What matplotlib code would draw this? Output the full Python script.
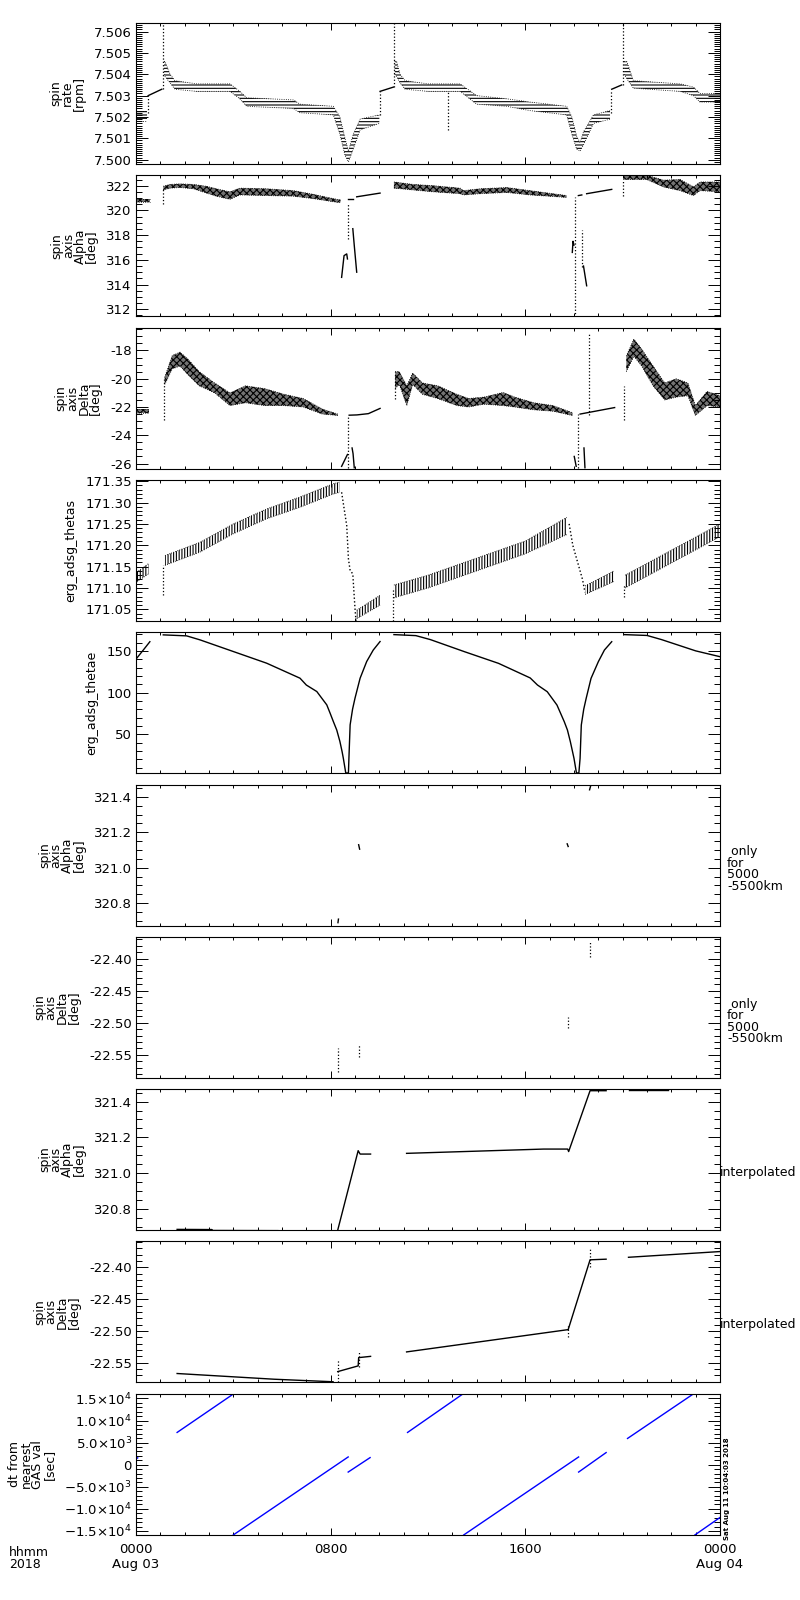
import numpy as np
import matplotlib
matplotlib.use('Agg')
import matplotlib.pyplot as plt
from matplotlib.ticker import MultipleLocator, FixedLocator, FixedFormatter

plt.rcParams['font.family'] = ['DejaVu Sans']
plt.rcParams['font.size'] = 9
plt.rcParams['hatch.linewidth'] = 0.8

# time axis in hours from 2018-08-03 00:00
xticks = [0, 8, 16, 24]
xticklabels = ['0000\nAug 03', '0800', '1600', '0000\nAug 04']

# ---- panel 1: spin rate [rpm]
p1_band_t = [[0.0, 0.45],
             [1.15, 1.19, 1.40, 1.60, 2.5, 3.86, 4.27, 4.55, 6.47, 6.74, 8.11, 8.38, 8.59, 8.73, 8.93, 9.21, 10.0],
             [10.63, 10.71, 10.85, 11.06, 12.0, 13.32, 14.0, 15.24, 16.19, 17.70, 17.91, 18.11, 18.25, 18.39, 18.80, 19.48],
             [20.06, 20.17, 20.44, 22.36, 22.91, 23.18, 24.0]]
p1_band_lo = [[7.5018, 7.5018],
              [7.5040, 7.5039, 7.5036, 7.5033, 7.5032, 7.5032, 7.50285, 7.5025, 7.5024, 7.5022, 7.5021, 7.5012, 7.5002, 7.4999, 7.5005, 7.5014, 7.5017],
              [7.5040, 7.5039, 7.5036, 7.5033, 7.5032, 7.5032, 7.5026, 7.5025, 7.5023, 7.5021, 7.5012, 7.5005, 7.5004, 7.5007, 7.5017, 7.5019],
              [7.5040, 7.5038, 7.50335, 7.5032, 7.5030, 7.5027, 7.5027]]
p1_band_hi = [[7.5023, 7.5023],
              [7.5046, 7.5046, 7.5040, 7.5037, 7.50355, 7.50355, 7.5032, 7.5029, 7.5028, 7.5026, 7.5025, 7.5020, 7.5010, 7.5004, 7.5012, 7.5019, 7.5021],
              [7.5046, 7.5046, 7.5040, 7.5037, 7.50355, 7.50355, 7.5030, 7.50285, 7.5027, 7.5025, 7.5020, 7.5011, 7.5008, 7.5013, 7.5021, 7.5023],
              [7.5046, 7.5046, 7.5037, 7.50355, 7.5034, 7.5031, 7.5031]]
p1_line_t = [[0.5, 1.06], [10.03, 10.58], [19.55, 19.96]]
p1_line_v = [[7.5030, 7.5033], [7.5032, 7.5034], [7.5033, 7.5035]]
p1_vt = [0.5, 1.12, 10.03, 10.6, 12.84, 19.5, 20.03]
p1_vlo = [7.5022, 7.5033, 7.5021, 7.5034, 7.5014, 7.5022, 7.5035]
p1_vhi = [7.5030, 7.5064, 7.5032, 7.5064, 7.5032, 7.5032, 7.5064]

# ---- panel 2: spin axis alpha [deg]
p2_band_t = [[0.0, 0.58],
             [1.12, 1.40, 1.81, 2.36, 2.90, 3.3, 3.86, 4.27, 5.37, 6.47, 7.29, 8.11, 8.40],
             [10.6, 11.40, 12.22, 13.32, 13.45, 14.14, 15.24, 16.19, 17.70],
             [20.03, 20.99, 21.67, 22.36, 22.91, 23.18, 24.0]]
p2_band_lo = [[320.7, 320.7],
              [321.65, 321.80, 321.85, 321.75, 321.40, 321.15, 320.9, 321.25, 321.2, 321.15, 320.95, 320.7, 320.62],
              [321.8, 321.65, 321.5, 321.35, 321.25, 321.35, 321.45, 321.25, 321.05],
              [322.5, 322.5, 321.9, 321.6, 321.2, 321.6, 321.5]]
p2_band_hi = [[320.95, 320.95],
              [321.95, 322.10, 322.15, 322.10, 321.95, 321.75, 321.5, 321.8, 321.75, 321.6, 321.3, 320.95, 320.85],
              [322.3, 322.1, 322.0, 321.8, 321.6, 321.75, 321.85, 321.6, 321.2],
              [322.85, 322.85, 322.45, 322.5, 321.9, 322.3, 322.3]]
p2_line_t = [[8.45, 8.55, 8.66, 8.69], [8.91, 8.97, 9.07], [8.73, 8.91], [9.07, 10.03],
             [17.93, 17.96, 18.0], [18.39, 18.52], [18.18, 18.32], [18.52, 19.55]]
p2_line_v = [[314.58, 316.34, 316.48, 316.07], [318.52, 317.16, 315.0], [320.95, 320.95], [321.1, 321.4],
             [316.6, 317.5, 317.2], [315.5, 313.9], [321.2, 321.25], [321.35, 321.7]]
p2_vt = [1.12, 8.70, 18.04, 18.32, 20.0]
p2_vlo = [320.55, 317.7, 311.4, 315.4, 321.2]
p2_vhi = [321.85, 320.6, 321.1, 318.4, 322.5]

# ---- panel 3: spin axis delta [deg]
p3_band_t = [[0.0, 0.54],
             [1.18, 1.49, 1.81, 2.13, 2.6, 3.23, 3.86, 4.5, 5.29, 6.08, 6.87, 7.66, 8.29],
             [10.65, 10.82, 11.13, 11.37, 11.77, 12.4, 13.19, 13.67, 14.3, 15.09, 15.56, 16.35, 17.14, 17.93],
             [20.15, 20.46, 20.78, 21.25, 21.73, 22.2, 22.68, 22.99, 23.47, 24.0]]
p3_band_lo = [[-22.4, -22.4],
              [-20.4, -19.3, -19.1, -19.7, -20.5, -21.0, -21.9, -21.7, -21.9, -21.9, -22.0, -22.5, -22.6],
              [-20.7, -20.4, -21.9, -20.4, -21.1, -21.4, -21.9, -22.0, -21.8, -21.9, -22.0, -22.2, -22.3, -22.6],
              [-19.5, -18.4, -19.1, -20.5, -21.5, -21.3, -21.2, -22.6, -21.9, -22.0]]
p3_band_hi = [[-22.15, -22.15],
              [-19.9, -18.36, -18.12, -18.6, -19.5, -20.3, -21.0, -20.5, -20.7, -21.1, -21.4, -22.15, -22.5],
              [-19.5, -19.5, -20.5, -19.6, -20.3, -20.5, -21.1, -21.4, -21.3, -20.97, -21.3, -21.7, -21.9, -22.4],
              [-18.4, -17.2, -17.9, -19.1, -20.3, -20.0, -20.3, -21.9, -20.9, -21.2]]
p3_line_t = [[8.45, 8.69], [8.88, 8.92, 8.97], [8.76, 9.08, 9.55, 10.03],
             [18.01, 18.09], [18.41, 18.45], [18.25, 19.67]]
p3_line_v = [[-26.2, -25.36], [-24.9, -25.3, -26.3], [-22.58, -22.56, -22.47, -22.1],
             [-25.5, -26.2], [-24.9, -26.3], [-22.5, -22.04]]
p3_vt = [1.14, 8.73, 10.63, 18.17, 18.6, 20.07]
p3_vlo = [-22.9, -26.3, -21.4, -26.3, -22.6, -22.9]
p3_vhi = [-19.9, -22.56, -19.5, -22.5, -16.8, -20.5]

# ---- panel 4: erg_adsg_thetas
p4_band_t = [[0.03, 0.51],
             [1.19, 2.63, 4.0, 5.37, 6.74, 8.11, 8.38],
             [9.07, 10.03],
             [10.6, 12.0, 14.0, 16.0, 17.7],
             [18.46, 19.64],
             [20.1, 24.0]]
p4_band_lo = [[171.114, 171.133], [171.153, 171.184, 171.227, 171.262, 171.289, 171.320, 171.324],
              [171.028, 171.06], [171.077, 171.10, 171.14, 171.18, 171.225],
              [171.085, 171.115], [171.10, 171.22]]
p4_band_hi = [[171.137, 171.157], [171.176, 171.207, 171.25, 171.285, 171.313, 171.344, 171.348],
              [171.048, 171.083], [171.107, 171.13, 171.17, 171.21, 171.265],
              [171.105, 171.14], [171.13, 171.25]]
p4_drop_t = [[8.45, 8.66, 8.73, 8.80, 8.91, 8.93, 9.0, 9.04],
             [17.8, 17.95, 18.1, 18.2, 18.35, 18.45]]
p4_drop_v = [[171.324, 171.246, 171.168, 171.141, 171.133, 171.114, 171.052, 171.023],
             [171.25, 171.20, 171.17, 171.15, 171.12, 171.09]]
p4_vt = [1.12, 10.58, 20.06]
p4_vlo = [171.083, 171.023, 171.08]
p4_vhi = [171.153, 171.10, 171.11]

# ---- panel 5: erg_adsg_thetae
p5_t = [[0.03, 0.3, 0.57],
        [1.12, 2.08, 2.63, 4.0, 5.37, 6.74, 7.0, 7.43, 7.64, 7.84, 7.98, 8.11, 8.25, 8.38, 8.47, 8.52, 8.62,
         8.73, 8.75, 8.8, 8.9, 9.0, 9.21, 9.48, 9.75, 10.03],
        [10.6, 11.5, 12.1, 13.5, 14.9, 16.2, 16.5, 16.9, 17.1, 17.3, 17.45, 17.6, 17.73, 17.85, 17.94, 18.0, 18.1,
         18.2, 18.25, 18.3, 18.4, 18.5, 18.7, 19.0, 19.25, 19.55],
        [20.06, 21.0, 21.6, 23.0, 24.0]]
p5_v = [[141.2, 151.0, 161.0],
        [169.2, 168.0, 163.2, 149.2, 135.2, 117.2, 109.0, 101.2, 93.0, 85.2, 75.0, 65.2, 55.0, 41.2, 29.0, 21.2, 3.5,
         3.5, 21.0, 61.2, 80.0, 93.2, 117.2, 137.2, 151.0, 161.2],
        [169.5, 168.3, 163.5, 149.0, 135.0, 117.5, 109.0, 101.0, 93.0, 85.0, 75.0, 65.0, 55.0, 41.0, 29.0, 21.0, 3.5,
         3.5, 21.0, 61.0, 80.0, 93.0, 117.0, 137.0, 151.0, 161.0],
        [169.5, 168.5, 163.5, 150.0, 143.0]]

# ---- panel 6 / 7: only for 5000-5500km
p6_t = [[8.30, 8.32], [9.15, 9.19], [17.72, 17.76], [18.64, 18.68]]
p6_v = [[320.69, 320.71], [321.13, 321.105], [321.135, 321.12], [321.44, 321.46]]
p7_t = [8.30, 9.17, 17.74, 18.66]
p7_lo = [-22.577, -22.554, -22.509, -22.397]
p7_hi = [-22.540, -22.533, -22.491, -22.374]

# ---- panel 8 / 9: interpolated
p8_t = [[1.69, 3.12, 3.12, 5.83], [8.29, 9.13, 9.21, 9.64],
        [11.12, 16.75, 17.74, 17.78, 18.66, 19.32], [20.24, 21.88]]
p8_v = [[320.684, 320.683, 320.678, 320.677], [320.680, 321.125, 321.106, 321.106],
        [321.11, 321.134, 321.134, 321.12, 321.461, 321.461], [321.466, 321.466]]
p9_t = [[1.69, 5.68, 8.1], [8.29, 9.13, 9.15, 9.64], [11.12, 17.74],
        [17.76, 18.66, 19.32], [20.24, 24.0]]
p9_v = [[-22.567, -22.576, -22.580], [-22.564, -22.555, -22.542, -22.540], [-22.533, -22.498],
        [-22.498, -22.388, -22.387], [-22.384, -22.375]]
p9_vt = [8.29, 9.17, 17.74, 18.66]
p9_vlo = [-22.581, -22.556, -22.51, -22.40]
p9_vhi = [-22.545, -22.533, -22.49, -22.37]

# ---- panel 10: dt from nearest GAS val [sec]
p10_t = [[0.0, 0.07], [1.69, 4.0], [4.0, 8.72], [8.72, 9.62], [11.16, 13.43],
         [13.47, 18.19], [18.19, 19.32], [20.2, 22.9], [22.97, 24.0]]
p10_v = [[1300, 1550], [7300, 16000], [-15900, 1750], [-1670, 1600], [7300, 16000],
         [-15900, 1750], [-1670, 2740], [5940, 16000], [-15900, -11950]]
p10_ticks = [-15000, -10000, -5000, 0, 5000, 10000, 15000]
p10_ticklabels = [r'$-$1.5$\times$10$^4$', r'$-$1.0$\times$10$^4$', r'$-$5.0$\times$10$^3$', '0',
                  r'5.0$\times$10$^3$', r'1.0$\times$10$^4$', r'1.5$\times$10$^4$']

ylabels = ['spin\nrate\n[rpm]', 'spin\naxis\nAlpha\n[deg]', 'spin\naxis\nDelta\n[deg]',
           'erg_adsg_thetas', 'erg_adsg_thetae',
           'spin\naxis\nAlpha\n[deg]', 'spin\naxis\nDelta\n[deg]',
           'spin\naxis\nAlpha\n[deg]', 'spin\naxis\nDelta\n[deg]',
           'dt from\nnearest\nGAS val\n[sec]']
ylims = [(7.4998, 7.5064), (311.43, 322.84), (-26.36, -16.38), (171.023, 171.353), (3.2, 172.4),
         (320.674, 321.47), (-22.586, -22.366), (320.68, 321.47), (-22.581, -22.359), (-15850, 16070)]
ymajor = [0.001, 2, 2, 0.05, 50, 0.2, 0.05, 0.2, 0.05, 5000]
yminor = [0.0001, 0.5, 0.5, 0.01, 10, 0.05, 0.01, 0.05, 0.01, 1000]
ydigits = [3, 0, 0, 2, 0, 1, 2, 1, 2, 0]

W, H = 800, 1600
fig = plt.figure(figsize=(W / 100, H / 100), dpi=100)
axes = []
for i in range(10):
    top = 23 + 152.3 * i
    ax = fig.add_axes([136 / W, 1 - (top + 141) / H, 584 / W, 141 / H])
    ax.set_xlim(0, 24)
    ax.set_ylim(*ylims[i])
    ax.xaxis.set_major_locator(FixedLocator(xticks))
    ax.xaxis.set_minor_locator(MultipleLocator(1))
    ax.yaxis.set_minor_locator(MultipleLocator(yminor[i]))
    if i < 9:
        ax.yaxis.set_major_locator(MultipleLocator(ymajor[i]))
        ax.yaxis.set_major_formatter(plt.FormatStrFormatter('%.' + str(ydigits[i]) + 'f'))
        ax.set_xticklabels([])
    else:
        ax.yaxis.set_major_locator(FixedLocator(p10_ticks))
        ax.yaxis.set_major_formatter(FixedFormatter(p10_ticklabels))
        ax.set_xticklabels(xticklabels)
    ax.tick_params(which='both', direction='in', top=True, right=True, width=0.7, labelsize=9.5)
    ax.tick_params(axis='y', which='major', length=8.6, pad=3)
    ax.tick_params(axis='y', which='minor', length=4.3)
    ax.tick_params(axis='x', which='major', length=5, pad=6)
    ax.tick_params(axis='x', which='minor', length=2.5)
    for s in ax.spines.values():
        s.set_linewidth(0.8)
    ax.set_ylabel(ylabels[i], linespacing=0.85, labelpad=6)
    axes.append(ax)


def band(ax, t, lo, hi, hatch, face='none'):
    ax.fill_between(t, lo, hi, facecolor=face, edgecolor='k', hatch=hatch, linewidth=0)
    ax.plot(t, lo, 'k:', lw=0.6)
    ax.plot(t, hi, 'k:', lw=0.6)


def vdots(ax, t, lo, hi):
    for a, b, c in zip(t, lo, hi):
        ax.plot([a, a], [b, c], 'k:', lw=0.9)


# panel 1
ax = axes[0]
for t, lo, hi in zip(p1_band_t, p1_band_lo, p1_band_hi):
    band(ax, t, lo, hi, '-----')
for t, v in zip(p1_line_t, p1_line_v):
    ax.plot(t, v, 'k-', lw=1)
vdots(ax, p1_vt, p1_vlo, p1_vhi)

# panel 2
ax = axes[1]
for t, lo, hi in zip(p2_band_t, p2_band_lo, p2_band_hi):
    band(ax, t, lo, hi, 'xxxxx', face='0.45')
for t, v in zip(p2_line_t, p2_line_v):
    ax.plot(t, v, 'k-', lw=1)
vdots(ax, p2_vt, p2_vlo, p2_vhi)

# panel 3
ax = axes[2]
for t, lo, hi in zip(p3_band_t, p3_band_lo, p3_band_hi):
    band(ax, t, lo, hi, 'xxxxx', face='0.45')
for t, v in zip(p3_line_t, p3_line_v):
    ax.plot(t, v, 'k-', lw=1)
vdots(ax, p3_vt, p3_vlo, p3_vhi)

# panel 4
ax = axes[3]
for t, lo, hi in zip(p4_band_t, p4_band_lo, p4_band_hi):
    band(ax, t, lo, hi, '||||||')
for t, v in zip(p4_drop_t, p4_drop_v):
    ax.plot(t, v, 'k:', lw=1)
vdots(ax, p4_vt, p4_vlo, p4_vhi)

# panel 5
ax = axes[4]
for t, v in zip(p5_t, p5_v):
    ax.plot(t, v, 'k-', lw=1)

# panel 6 / 7
ax = axes[5]
for t, v in zip(p6_t, p6_v):
    ax.plot(t, v, 'k-', lw=1)
vdots(axes[6], p7_t, p7_lo, p7_hi)

# panel 8 / 9
for t, v in zip(p8_t, p8_v):
    axes[7].plot(t, v, 'k-', lw=1)
for t, v in zip(p9_t, p9_v):
    axes[8].plot(t, v, 'k-', lw=1)
vdots(axes[8], p9_vt, p9_vlo, p9_vhi)

# panel 10
for t, v in zip(p10_t, p10_v):
    axes[9].plot(t, v, '-', color='#0000ff', lw=1)

# side notes
for i in (5, 6):
    axes[i].text(1.012, 0.40, ' only\nfor\n5000\n-5500km', transform=axes[i].transAxes,
                 ha='left', va='center', linespacing=0.85)
for i in (7, 8):
    axes[i].text(1.0, 0.41, 'interpolated', transform=axes[i].transAxes,
                 ha='left', va='center')

fig.text(9 / W, 1 - 1546 / H, 'hhmm\n2018', ha='left', va='top', linespacing=0.9)
fig.text(727 / W, 1 - 1540 / H, 'Sat Aug 11 10:04:03 2018', rotation=90, fontsize=5,
         ha='center', va='bottom', weight='bold')

fig.savefig('out.png', dpi=100)
